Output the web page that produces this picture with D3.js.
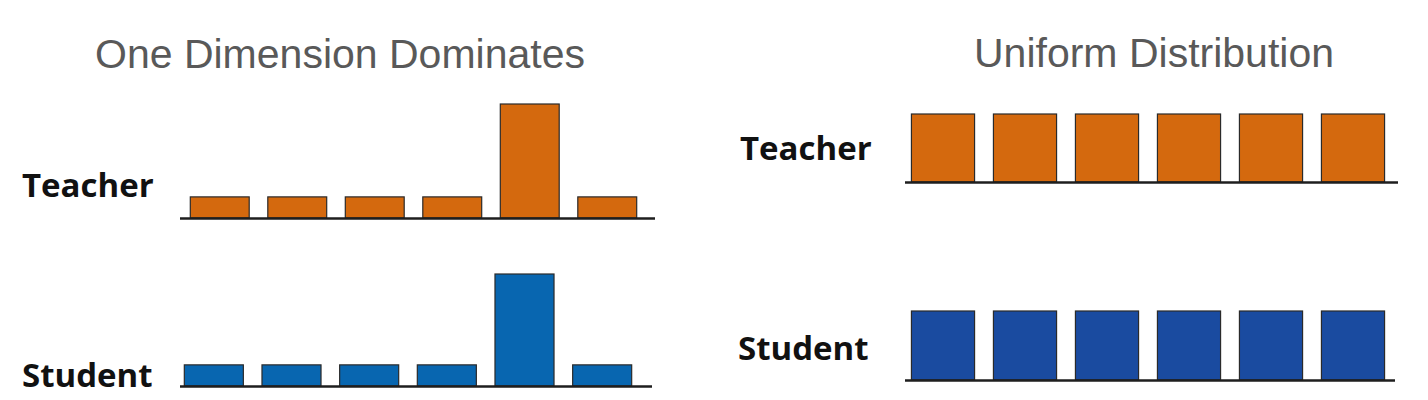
<!DOCTYPE html>
<html>
<head>
<meta charset="utf-8">
<script src="https://cdn.jsdelivr.net/npm/d3@7"></script>
<style>
  html, body { margin: 0; padding: 0; background: #ffffff; }
  svg { display: block; }
</style>
</head>
<body>
<script>
// ---- data ----
const categories = ["d1", "d2", "d3", "d4", "d5", "d6"];
const dominantTeacher = [1, 1, 1, 1, 5.4, 1];
const dominantStudent = [1, 1, 1, 1, 5.3, 1];
const uniformTeacher = [1, 1, 1, 1, 1, 1];
const uniformStudent = [1, 1, 1, 1, 1, 1];
const titles = ["One Dimension Dominates", "Uniform Distribution"];
const rowLabels = ["Teacher", "Student"];

const W = 1428, H = 400;
const svg = d3.select("body").append("svg").attr("width", W).attr("height", H);

const orange = "#d4690e";
const blueLeft = "#0866b0";
const blueRight = "#1a4ba0";

function panel(cfg) {
  const x = d3.scaleBand().domain(categories).range(cfg.xr).paddingInner(cfg.pad).paddingOuter(cfg.pad / 2);
  const y = d3.scaleLinear().domain([0, cfg.ymax]).range([cfg.base, cfg.base - cfg.hmax]);
  const g = svg.append("g");
  g.selectAll("rect").data(cfg.values).join("rect")
    .attr("x", (d, i) => x(categories[i]))
    .attr("y", d => y(d))
    .attr("width", x.bandwidth())
    .attr("height", d => y(0) - y(d))
    .attr("fill", cfg.color)
    .attr("stroke", "#2a2a2a")
    .attr("stroke-width", 1.2);
  g.append("line")
    .attr("x1", cfg.axis[0]).attr("x2", cfg.axis[1])
    .attr("y1", y(0) + 0.5).attr("y2", y(0) + 0.5)
    .attr("stroke", "#1e1e1e").attr("stroke-width", 2.5);
  g.append("text")
    .attr("x", cfg.label[0]).attr("y", cfg.label[1])
    .attr("font-family", "Open Sans, sans-serif")
    .attr("font-weight", 700)
    .attr("font-size", 33)
    .attr("fill", "#111")
    .text(cfg.labelText);
}

panel({ values: dominantTeacher, ymax: 5.4, hmax: 114, base: 218, xr: [181, 646], pad: 0.24,
        axis: [180, 655], color: orange, label: [22, 197], labelText: rowLabels[0] });
panel({ values: dominantStudent, ymax: 5.3, hmax: 112, base: 386, xr: [175, 641], pad: 0.24,
        axis: [180, 652], color: blueLeft, label: [22, 387], labelText: rowLabels[1] });
panel({ values: uniformTeacher, ymax: 1, hmax: 68, base: 182, xr: [902, 1394], pad: 0.23,
        axis: [905, 1398], color: orange, label: [740, 160], labelText: rowLabels[0] });
panel({ values: uniformStudent, ymax: 1, hmax: 69, base: 380, xr: [902, 1394], pad: 0.23,
        axis: [905, 1395], color: blueRight, label: [738, 360], labelText: rowLabels[1] });

svg.append("text").attr("x", 340).attr("y", 68).attr("text-anchor", "middle")
  .attr("font-family", "Liberation Sans, Arial, sans-serif").attr("font-size", 41)
  .attr("fill", "#595959").text(titles[0]);
svg.append("text").attr("x", 1154).attr("y", 67).attr("text-anchor", "middle")
  .attr("font-family", "Liberation Sans, Arial, sans-serif").attr("font-size", 41)
  .attr("fill", "#595959").text(titles[1]);
</script>
</body>
</html>
